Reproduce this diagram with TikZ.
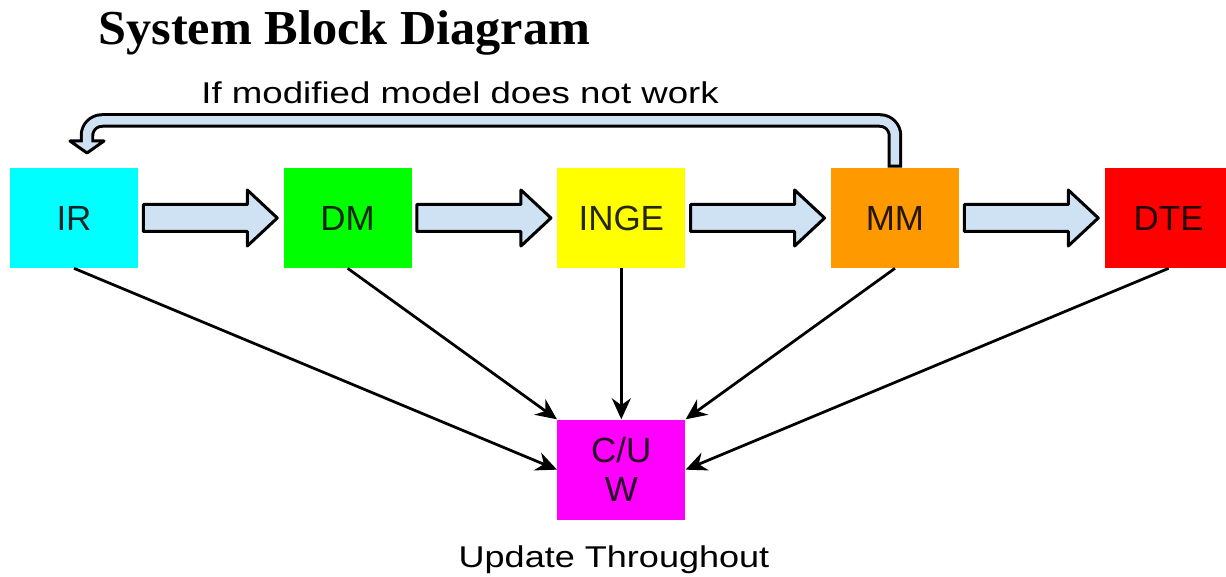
\documentclass[tikz,border=0pt]{standalone}
\usepackage{fontspec}
\setmainfont{Liberation Sans}
\newfontfamily\headfont{Liberation Serif}
\usetikzlibrary{arrows.meta,positioning,calc}
\definecolor{cIR}{HTML}{00FFFF}
\definecolor{cDM}{HTML}{00FF00}
\definecolor{cInge}{HTML}{FFFF00}
\definecolor{cMM}{HTML}{FF9900}
\definecolor{cDTE}{HTML}{FF0000}
\definecolor{cCUW}{HTML}{FF00FF}
\definecolor{cFat}{HTML}{CFE2F3}
\tikzset{
  blk/.style    = {rectangle, fill=#1, minimum width=2.56cm, minimum height=2cm, inner sep=0pt,
                   align=center, text=black!85!#1, font=\fontsize{19.9}{22.1}\selectfont},
  fat/.style    = {draw=black, fill=cFat, line width=0.06cm, line join=round},
  fbout/.style  = {draw=black, line width=0.29cm, rounded corners=0.3cm},
  fbin/.style   = {draw=cFat, line width=0.17cm, rounded corners=0.3cm},
  fl/.style     = {-{Stealth[length=0.42cm, width=0.38cm]}, draw=black, line width=0.055cm},
  captxt/.style = {inner sep=0pt, font=\fontsize{17.1}{20}\selectfont},
}
% wide hollow arrow between two blocks
\newcommand{\fatarrow}[2]{%
  \draw[fat] ($(#1.east)+(5,-13.5)$) -- ($(#2.west)+(-36,-13.5)$)
    -- ($(#2.west)+(-36,-28)$) -- ($(#2.west)+(-6,0)$)
    -- ($(#2.west)+(-36,28)$) -- ($(#2.west)+(-36,13.5)$)
    -- ($(#1.east)+(5,13.5)$) -- cycle;}

\begin{document}
\begin{tikzpicture}[x=0.02cm, y=-0.02cm, node distance=3.02cm and 2.9cm]
  \useasboundingbox (0,0) rectangle (1226,577);

  \node[anchor=base west, inner sep=0pt, font=\headfont\fontsize{27.8}{30}\selectfont\bfseries]
    (title) at (98,45) {\scalebox{1.03}[1]{System Block Diagram}};

  \node[blk=cIR] (ir) at (74,218) {IR};
  \node[blk=cDM, right=of ir] (dm) {DM};
  \node[blk=cInge, right=of dm] (inge) {INGE};
  \node[blk=cMM, right=of inge] (mm) {MM};
  \node[blk=cDTE, right=of mm] (dte) {DTE};
  \node[blk=cCUW, below=of inge] (cuw) {C/U\\W};
  \node[captxt, anchor=base] (upd) at (614,567) {\scalebox{1.2}[1]{Update Throughout}};

  \fatarrow{ir}{dm}
  \fatarrow{dm}{inge}
  \fatarrow{inge}{mm}
  \fatarrow{mm}{dte}

  % feedback loop back to IR
  \coordinate (fbtip) at (87,153);
  \draw[fbout] (mm.north) -- (mm.north |- 0,120.5) -- (fbtip |- 0,120.5) -- ($(fbtip)+(0,-10)$);
  \draw[fat] (fbtip) -- ++(-17,-12) -- ++(34,0) -- cycle;
  \draw[fbin] ($(mm.north)+(0,-3)$) -- (mm.north |- 0,120.5) -- (fbtip |- 0,120.5) -- ($(fbtip)+(0,-10)$);
  \node[captxt, anchor=base west] (fbtext) at (201,104) {\scalebox{1.22}[1]{If modified model does not work}};

  \draw[fl] (ir.south) -- (cuw.west);
  \draw[fl] (dm.south) -- (cuw.north west);
  \draw[fl] (inge.south) -- (cuw.north);
  \draw[fl] (mm.south) -- (cuw.north east);
  \draw[fl] (dte.south) -- (cuw.east);
\end{tikzpicture}
\end{document}
